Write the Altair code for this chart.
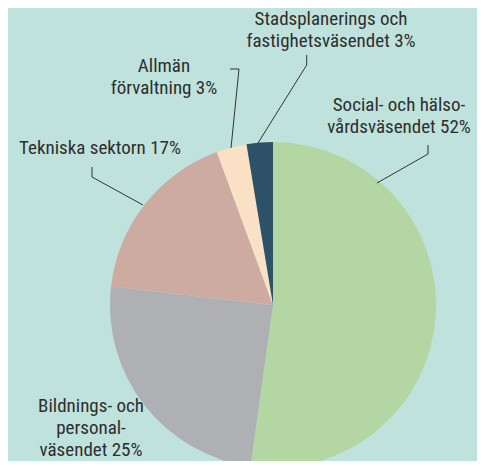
import altair as alt
import pandas as pd

# Slice data (clockwise from 12 o'clock)
sectors = ["Social- och hälsovårdsväsendet", "Bildnings- och personalväsendet",
           "Tekniska sektorn", "Allmän förvaltning", "Stadsplanerings och fastighetsväsendet"]
shares = [52.2, 24.6, 17.6, 3.0, 2.6]
colors = ["#b3d6a3", "#afb0b4", "#cdaba0", "#fae1c5", "#2d5268"]

# Label lines
label_lines = ["Stadsplanerings och", "fastighetsväsendet 3%",
               "Allmän", "förvaltning 3%",
               "Social- och hälso-", "vårdsväsendet 52%",
               "Tekniska sektorn 17%",
               "Bildnings- och", "personal-", "väsendet 25%"]
label_x = [331, 331, 164, 164, 399, 399, 100, 91, 91, 91]
label_y = [19, 41, 66, 88, 105, 127, 148, 406, 428, 450]

# Leader line segments
seg_x = [306.7, 306.7, 230, 239, 428, 428, 92, 92]
seg_y = [55, 65, 69, 69, 145, 154, 167, 177]
seg_x2 = [306.7, 258, 239, 231, 428, 377, 92, 143]
seg_y2 = [65, 143, 69, 148, 154, 183, 177, 205]

W, H = 469, 453
BG = "#bfe2dc"

pie_df = pd.DataFrame({"sector": sectors, "share": shares, "ord": list(range(len(sectors)))})
lab_df = pd.DataFrame({"t": label_lines, "x": label_x, "y": label_y})
seg_df = pd.DataFrame({"x": seg_x, "y": seg_y, "x2": seg_x2, "y2": seg_y2})

xs = alt.Scale(domain=[8, 8 + W], nice=False, zero=False)
ys = alt.Scale(domain=[8, 8 + H], nice=False, zero=False, reverse=True)

pie = alt.Chart(pie_df).mark_arc(outerRadius=163).encode(
    theta=alt.Theta("share:Q", stack=True),
    order=alt.Order("ord:Q"),
    color=alt.Color("sector:N", scale=alt.Scale(domain=sectors, range=colors), legend=None),
    x=alt.value(273 - 8),
    y=alt.value(305 - 8),
)

segs = alt.Chart(seg_df).mark_rule(color="#333333", strokeWidth=1).encode(
    x=alt.X("x:Q", scale=xs, axis=None),
    y=alt.Y("y:Q", scale=ys, axis=None),
    x2="x2:Q",
    y2="y2:Q",
)

labels = alt.Chart(lab_df).mark_text(
    font="Liberation Sans Narrow, Roboto Condensed, Roboto, sans-serif",
    fontSize=19, color="#2e2e2e", align="center", baseline="middle"
).encode(
    x=alt.X("x:Q", scale=xs, axis=None),
    y=alt.Y("y:Q", scale=ys, axis=None),
    text="t:N",
)

chart = alt.layer(pie, segs, labels).properties(
    width=W, height=H, padding=0, background=BG,
    autosize=alt.AutoSizeParams(type="none"),
).configure_view(stroke=None)

chart.save("out.html", embed_options={"renderer": "svg", "actions": False})
